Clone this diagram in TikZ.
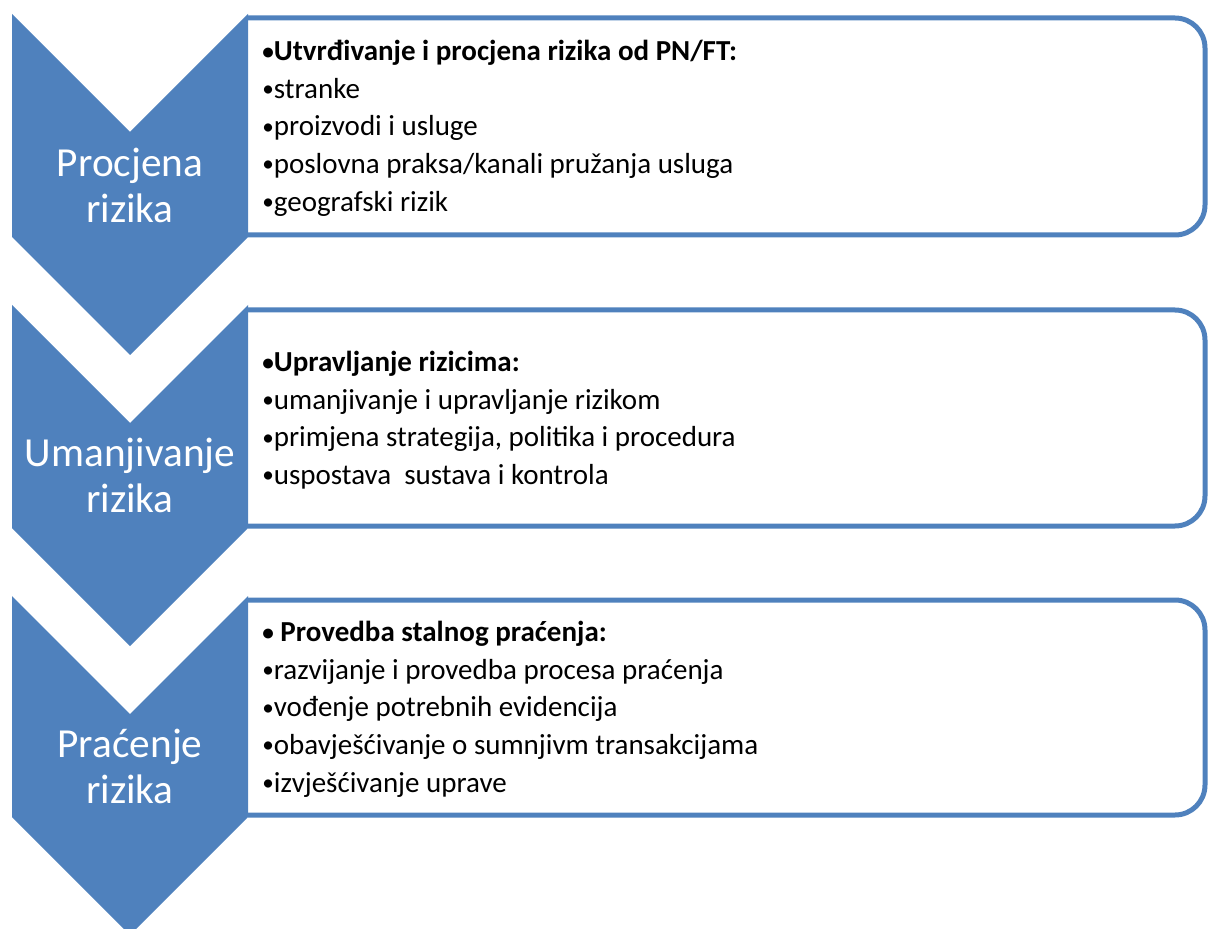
\documentclass[tikz,border=0pt]{standalone}
\usepackage{fontspec}
\setmainfont{Carlito}
\usepackage{color}
\usepackage{tikz}
\usetikzlibrary{positioning}
\definecolor{procblue}{HTML}{4F81BD}
\newcommand{\lstdot}{\raisebox{0.12ex}{\scalebox{0.8}{•}}}

\begin{document}
\begin{tikzpicture}[x=0.02cm, y=-0.02cm]
    \tikzset{
      chevron/.style={fill=procblue,draw=none},
      stepframe/.style={draw=procblue,line width=0.1cm,rounded corners=0.6cm},
      steplabel/.style={text=white,align=center,inner sep=0,font=\fontsize{23.5}{26.2}\selectfont},
      itemlist/.style={align=left,inner sep=0,anchor=north west,font=\fontsize{16.5}{21.4}\selectfont}
    }
    \clip (0,0) rectangle (1208,929);

    % frames on the right
    \draw[stepframe] (248,18) -- (1205,18) -- (1205,235) -- (248,235);
    \draw[stepframe] (248,310) -- (1205,310) -- (1205,526) -- (248,526);
    \draw[stepframe] (248,600) -- (1205,600) -- (1205,815) -- (248,815);

    % chevrons
    \fill[chevron] (12,14) -- (130,132) -- (248,14) -- (248,237) -- (130,355) -- (12,237) -- cycle;
    \fill[chevron] (12,305) -- (130,423) -- (248,305) -- (248,528) -- (130,646) -- (12,528) -- cycle;
    \fill[chevron] (12,596) -- (130,714) -- (248,596) -- (248,817) -- (130,935) -- (12,817) -- cycle;

    \node[steplabel](assess) at (130,185){Procjena\\rizika};
    \node[steplabel](mitigate) at (130,475){Umanjivanje\\rizika};
    \node[steplabel](monitor) at (130,766){Praćenje\\rizika};

    \node[itemlist](assesslist) at (262,40){\textbf{\lstdot Utvrđivanje i procjena rizika od PN/FT:}\\\lstdot stranke\\\lstdot proizvodi i usluge\\\lstdot poslovna praksa/kanali pružanja usluga\\\lstdot geografski rizik};
    \node[itemlist](mitigatelist) at (262,351){\textbf{\lstdot Upravljanje rizicima:}\\\lstdot umanjivanje i upravljanje rizikom\\\lstdot primjena strategija, politika i procedura\\\lstdot uspostava~ sustava i kontrola};
    \node[itemlist](monitorlist) at (262,621){\textbf{\lstdot\ Provedba stalnog praćenja:}\\\lstdot razvijanje i provedba procesa praćenja\\\lstdot vođenje potrebnih evidencija\\\lstdot obavješćivanje o sumnjivm transakcijama\\\lstdot izvješćivanje uprave};

\end{tikzpicture}
\end{document}
